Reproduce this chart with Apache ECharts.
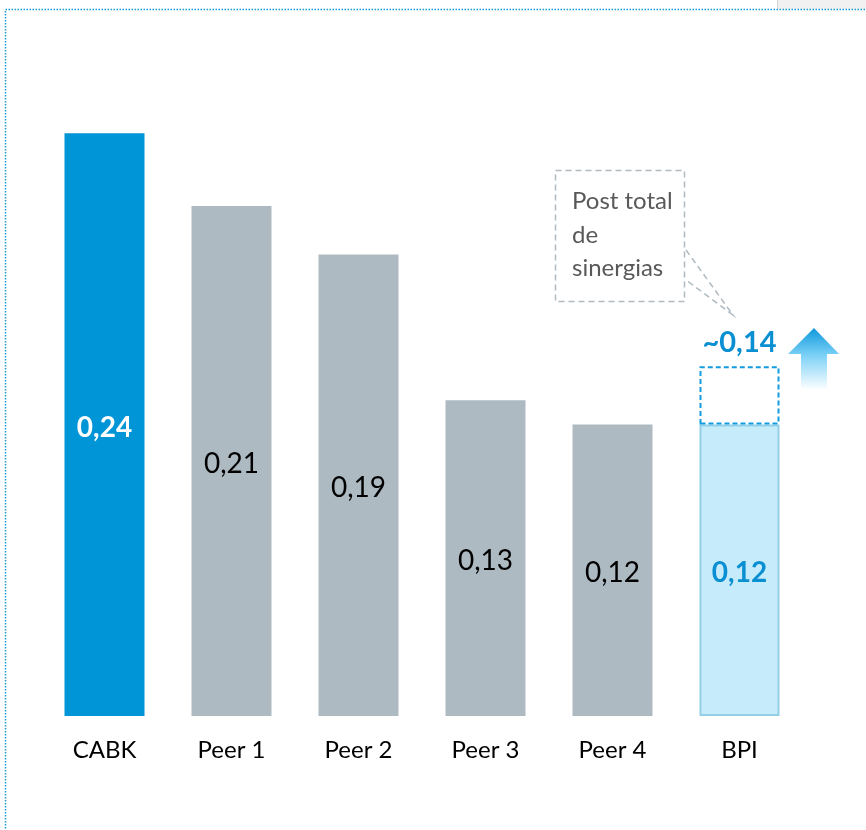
<!DOCTYPE html>
<html lang="en">
<head>
	<meta charset="UTF-8">
	<title>Ratio comparison</title>
	<style>
		html,body{background:#fff;height:100%;overflow:hidden;margin:0;padding:0;}
		#main{position:absolute;top:0;left:0;width:866px;height:830px;}
	</style>
</head>
<body>
	<div id="main"></div>
	<script src="https://cdn.jsdelivr.net/npm/echarts@6/dist/echarts.min.js"></script>
	<script>
		// data
		var categories = ['CABK', 'Peer 1', 'Peer 2', 'Peer 3', 'Peer 4', 'BPI'];
		var values = [0.24, 0.21, 0.19, 0.13, 0.12, 0.12];
		var valueLabels = ['0,24', '0,21', '0,19', '0,13', '0,12', '0,12'];
		var bpiPost = 0.144;
		var bpiPostLabel = '~0,14';
		var noteLines = ['Post total', 'de', 'sinergias'];

		var FONT = 'Lato, "Open Sans", sans-serif';
		var last = categories.length - 1;

		var chart = echarts.init(document.getElementById('main'));

		var baseData = values.map(function (v, i) {
			var item = { value: v };
			if (i === 0) {
				item.itemStyle = { color: '#0095d6' };
				item.label = { color: '#fff', fontWeight: 'bold' };
			} else if (i === last) {
				item.itemStyle = { color: '#c6ebfb', borderColor: '#92cfe6', borderWidth: 2 };
				item.label = { color: '#0a8fd2', fontWeight: 'bold' };
			}
			return item;
		});

		var extraData = values.map(function (v, i) {
			return i === last ? +(bpiPost - v).toFixed(3) : '-';
		});

		var option = {
			backgroundColor: '#fff',
			animation: false,
			grid: { left: 41, width: 762, top: 36, bottom: 114 },
			xAxis: {
				type: 'category',
				data: categories,
				axisLine: { show: false },
				axisTick: { show: false },
				axisLabel: { margin: 22, fontSize: 24, color: '#000', fontFamily: FONT }
			},
			yAxis: {
				type: 'value',
				min: 0,
				max: 0.28,
				show: false,
				splitLine: { show: false }
			},
			series: [{
				type: 'bar',
				stack: 'v',
				barWidth: 80,
				data: baseData,
				itemStyle: { color: '#adbac2' },
				label: {
					show: true,
					position: 'inside',
					offset: [0, 3],
					fontSize: 28,
					fontFamily: FONT,
					color: '#000',
					formatter: function (p) { return valueLabels[p.dataIndex]; }
				}
			}, {
				type: 'bar',
				stack: 'v',
				barWidth: 80,
				data: extraData,
				itemStyle: {
					color: 'rgba(255,255,255,0)',
					borderColor: '#139ddf',
					borderWidth: 2,
					borderType: [5, 3]
				},
				label: {
					show: true,
					position: 'top',
					distance: 9,
					fontSize: 29,
					fontWeight: 'bold',
					fontFamily: FONT,
					color: '#0a8fd2',
					formatter: bpiPostLabel
				}
			}],
			graphic: [
				// page frame
				{ type: 'rect', shape: { x: 777, y: 0, width: 89, height: 9 },
					style: { fill: '#f1f1f1', stroke: null } },
				{ type: 'line', shape: { x1: 777.5, y1: 0, x2: 777.5, y2: 9 },
					style: { stroke: '#d4d4d4', lineWidth: 1 } },
				{ type: 'rect', shape: { x: 5.5, y: 9.5, width: 900, height: 900 },
					style: { fill: null, stroke: '#1a9ad8', lineWidth: 1.5, lineDash: [1.5, 1.5] } },
				// callout box
				{ type: 'rect', shape: { x: 555.5, y: 170.5, width: 129, height: 131 },
					style: { fill: '#fff', stroke: '#aeb9c0', lineWidth: 1.5, lineDash: [6, 4] } },
				{ type: 'text', x: 572, y: 185,
					style: { text: noteLines.join('\n'), font: '24px ' + FONT, fill: '#595959', lineHeight: 33.5 } },
				{ type: 'polyline', shape: { points: [[686, 250], [733, 315], [686, 280]] },
					style: { fill: null, stroke: '#aeb9c0', lineWidth: 1.5, lineDash: [6, 4] } },
				// up arrow
				{ type: 'polygon',
					shape: { points: [[814, 328], [839, 354], [827, 354], [827, 390], [801, 390], [801, 354], [788, 354]] },
					style: {
						fill: new echarts.graphic.LinearGradient(0, 0, 0, 1, [
							{ offset: 0, color: '#0e98dc' },
							{ offset: 0.45, color: '#7ed2f7' },
							{ offset: 1, color: 'rgba(255,255,255,1)' }
						])
					} }
			]
		};

		chart.setOption(option);
	</script>
</body>
</html>
